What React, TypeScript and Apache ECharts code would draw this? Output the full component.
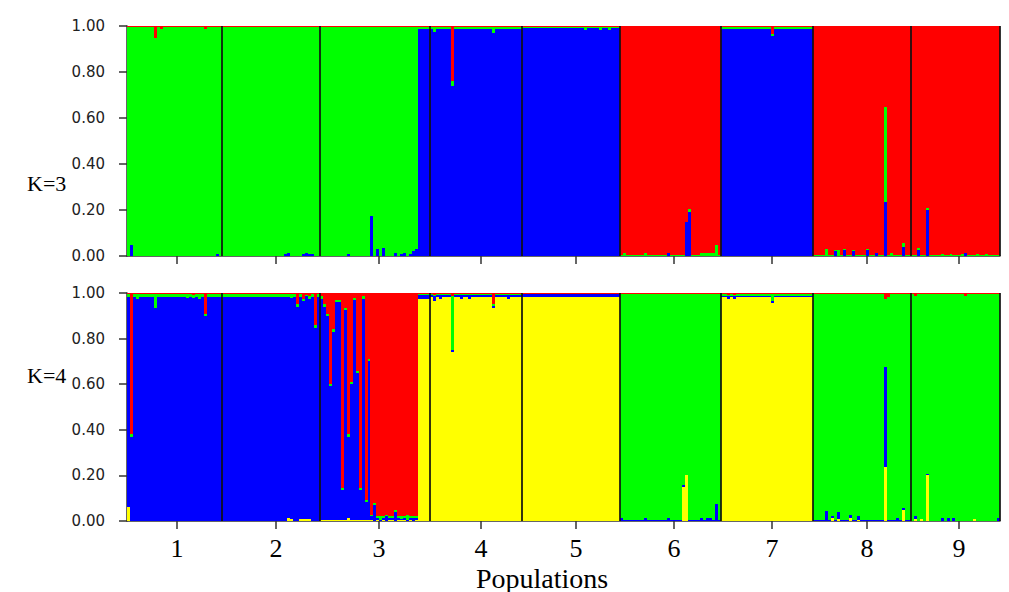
import React, { useEffect, useRef } from "react";
import * as echarts from "echarts";

// ---- data ----
const popLabels = ["1", "2", "3", "4", "5", "6", "7", "8", "9"];
const popSizes = [32, 33, 37, 31, 33, 34, 31, 33, 30];
const popTickPos = [16.8, 50.2, 84.9, 119.2, 151.2, 184.2, 217.2, 249.2, 280.2];
const yTickValues = [0, 0.2, 0.4, 0.6, 0.8, 1.0];
const panelLabels = ["K=3", "K=4"];
const xAxisTitle = "Populations";

// K=3 clusters, stacked bottom -> top: blue, green, red
const k3Colors = ["#0000FF", "#00FF00", "#FF0000"];
const k3Base = [
  [0, 0.994, 0.006],
  [0, 0.994, 0.006],
  [0, 0.994, 0.006],
  [0.986, 0.008, 0.006],
  [0.99, 0.004, 0.006],
  [0, 0.004, 0.996],
  [0.986, 0.008, 0.006],
  [0, 0.004, 0.996],
  [0, 0.004, 0.996],
];
// [population, individual in population, blue, green, red]
const k3Special = [
  [1, 1, 0.05, 0.944, 0.006],
  [1, 9, 0, 0.95, 0.05],
  [1, 11, 0, 0.985, 0.015],
  [1, 26, 0, 0.988, 0.012],
  [1, 30, 0.01, 0.984, 0.006],
  [2, 21, 0.01, 0.984, 0.006],
  [2, 22, 0.012, 0.982, 0.006],
  [2, 27, 0.01, 0.984, 0.006],
  [2, 28, 0.012, 0.982, 0.006],
  [2, 29, 0.01, 0.984, 0.006],
  [2, 30, 0.008, 0.986, 0.006],
  [3, 9, 0.01, 0.984, 0.006],
  [3, 17, 0.175, 0.82, 0.005],
  [3, 19, 0.03, 0.964, 0.006],
  [3, 21, 0.035, 0.959, 0.006],
  [3, 25, 0.015, 0.979, 0.006],
  [3, 27, 0.01, 0.984, 0.006],
  [3, 28, 0.012, 0.982, 0.006],
  [3, 30, 0.01, 0.984, 0.006],
  [3, 31, 0.02, 0.974, 0.006],
  [3, 32, 0.03, 0.964, 0.006],
  [3, 33, 0.986, 0.008, 0.006],
  [3, 34, 0.986, 0.008, 0.006],
  [3, 35, 0.986, 0.008, 0.006],
  [3, 36, 0.986, 0.008, 0.006],
  [4, 1, 0.975, 0.019, 0.006],
  [4, 7, 0.74, 0.02, 0.24],
  [4, 21, 0.97, 0.024, 0.006],
  [5, 21, 0.982, 0.012, 0.006],
  [5, 26, 0.982, 0.012, 0.006],
  [5, 29, 0.982, 0.012, 0.006],
  [6, 1, 0, 0.012, 0.988],
  [6, 8, 0, 0.012, 0.988],
  [6, 16, 0.012, 0, 0.988],
  [6, 22, 0.15, 0, 0.85],
  [6, 23, 0.19, 0.015, 0.795],
  [6, 27, 0, 0.012, 0.988],
  [6, 28, 0, 0.012, 0.988],
  [6, 29, 0, 0.012, 0.988],
  [6, 30, 0, 0.012, 0.988],
  [6, 31, 0, 0.012, 0.988],
  [6, 32, 0, 0.05, 0.95],
  [7, 17, 0.955, 0.01, 0.035],
  [8, 4, 0, 0.03, 0.97],
  [8, 7, 0.02, 0.005, 0.975],
  [8, 8, 0, 0.025, 0.975],
  [8, 10, 0.025, 0.005, 0.97],
  [8, 13, 0.02, 0.005, 0.975],
  [8, 18, 0.025, 0.005, 0.97],
  [8, 21, 0.015, 0, 0.985],
  [8, 24, 0.233, 0.413, 0.354],
  [8, 26, 0, 0.015, 0.985],
  [8, 30, 0.04, 0.015, 0.945],
  [9, 2, 0.025, 0.01, 0.965],
  [9, 5, 0.2, 0.01, 0.79],
  [9, 10, 0, 0.01, 0.99],
  [9, 13, 0, 0.01, 0.99],
  [9, 17, 0, 0.01, 0.99],
  [9, 18, 0.012, 0, 0.988],
  [9, 22, 0, 0.01, 0.99],
  [9, 25, 0, 0.01, 0.99],
];

// K=4 clusters, stacked bottom -> top: yellow, blue, green, red
const k4Colors = ["#FFFF00", "#0000FF", "#00FF00", "#FF0000"];
const k4Base = [
  [0, 0.984, 0.01, 0.006],
  [0, 0.984, 0.01, 0.006],
  [0.004, 0.01, 0.006, 0.98],
  [0.984, 0.006, 0.004, 0.006],
  [0.984, 0.01, 0, 0.006],
  [0, 0.004, 0.99, 0.006],
  [0.984, 0.004, 0.006, 0.006],
  [0, 0.004, 0.99, 0.006],
  [0, 0, 0.994, 0.006],
];
// [population, individual in population, yellow, blue, green, red]
const k4Special = [
  [1, 0, 0.06, 0.924, 0.01, 0.006],
  [1, 1, 0, 0.368, 0.012, 0.62],
  [1, 3, 0, 0.975, 0.019, 0.006],
  [1, 9, 0, 0.935, 0.059, 0.006],
  [1, 20, 0, 0.978, 0.016, 0.006],
  [1, 22, 0, 0.978, 0.012, 0.01],
  [1, 24, 0, 0.975, 0.019, 0.006],
  [1, 26, 0, 0.9, 0.01, 0.09],
  [2, 22, 0.012, 0.972, 0.01, 0.006],
  [2, 23, 0.01, 0.97, 0.014, 0.006],
  [2, 25, 0, 0.94, 0.01, 0.05],
  [2, 26, 0.01, 0.974, 0.01, 0.006],
  [2, 27, 0.01, 0.955, 0.01, 0.025],
  [2, 28, 0.01, 0.975, 0.005, 0.01],
  [2, 29, 0.01, 0.965, 0.01, 0.015],
  [2, 31, 0, 0.845, 0.015, 0.14],
  [3, 0, 0.004, 0.971, 0.01, 0.015],
  [3, 1, 0.004, 0.936, 0.01, 0.05],
  [3, 2, 0.004, 0.896, 0.01, 0.09],
  [3, 3, 0.004, 0.586, 0.01, 0.4],
  [3, 4, 0.004, 0.826, 0.01, 0.16],
  [3, 5, 0.004, 0.956, 0.01, 0.03],
  [3, 6, 0.004, 0.956, 0.01, 0.03],
  [3, 7, 0.004, 0.131, 0.01, 0.855],
  [3, 8, 0.004, 0.921, 0.01, 0.065],
  [3, 9, 0.012, 0.358, 0.01, 0.62],
  [3, 10, 0.004, 0.596, 0.01, 0.39],
  [3, 11, 0.004, 0.966, 0.01, 0.02],
  [3, 12, 0.004, 0.646, 0.01, 0.34],
  [3, 13, 0.004, 0.131, 0.01, 0.855],
  [3, 14, 0.004, 0.971, 0.01, 0.015],
  [3, 15, 0.004, 0.079, 0.01, 0.907],
  [3, 16, 0.004, 0.696, 0.01, 0.29],
  [3, 17, 0.004, 0.016, 0.005, 0.975],
  [3, 18, 0, 0.07, 0.01, 0.92],
  [3, 20, 0, 0.005, 0.015, 0.98],
  [3, 22, 0, 0.02, 0.005, 0.975],
  [3, 25, 0, 0.04, 0.01, 0.95],
  [3, 27, 0.005, 0.005, 0.01, 0.98],
  [3, 29, 0, 0.005, 0.02, 0.975],
  [3, 31, 0, 0.015, 0.005, 0.98],
  [3, 33, 0.975, 0.015, 0.004, 0.006],
  [3, 34, 0.975, 0.015, 0.004, 0.006],
  [3, 35, 0.975, 0.015, 0.004, 0.006],
  [3, 36, 0.975, 0.015, 0.004, 0.006],
  [4, 1, 0.965, 0.02, 0.005, 0.01],
  [4, 3, 0.975, 0.015, 0.004, 0.006],
  [4, 7, 0.74, 0.01, 0.235, 0.015],
  [4, 10, 0.975, 0.015, 0.004, 0.006],
  [4, 13, 0.975, 0.015, 0.004, 0.006],
  [4, 21, 0.935, 0.01, 0.005, 0.05],
  [4, 26, 0.975, 0.015, 0.004, 0.006],
  [6, 0, 0, 0.012, 0.982, 0.006],
  [6, 8, 0, 0.012, 0.982, 0.006],
  [6, 16, 0, 0.012, 0.982, 0.006],
  [6, 21, 0.15, 0.01, 0.834, 0.006],
  [6, 22, 0.2, 0, 0.794, 0.006],
  [6, 27, 0, 0.012, 0.982, 0.006],
  [6, 29, 0, 0.012, 0.982, 0.006],
  [6, 30, 0, 0.012, 0.982, 0.006],
  [6, 32, 0, 0.073, 0.921, 0.006],
  [7, 2, 0.975, 0.01, 0.005, 0.01],
  [7, 4, 0.975, 0.01, 0.005, 0.01],
  [7, 17, 0.955, 0.01, 0.03, 0.005],
  [8, 4, 0, 0.045, 0.949, 0.006],
  [8, 6, 0.015, 0.005, 0.974, 0.006],
  [8, 8, 0.01, 0.03, 0.954, 0.006],
  [8, 12, 0.015, 0.01, 0.969, 0.006],
  [8, 15, 0.005, 0.015, 0.974, 0.006],
  [8, 24, 0.235, 0.44, 0.3, 0.025],
  [8, 25, 0, 0.004, 0.98, 0.016],
  [8, 28, 0, 0.012, 0.982, 0.006],
  [8, 30, 0.05, 0.005, 0.94, 0.005],
  [9, 1, 0.01, 0.01, 0.965, 0.015],
  [9, 3, 0.01, 0, 0.984, 0.006],
  [9, 5, 0.2, 0.005, 0.789, 0.006],
  [9, 10, 0, 0.012, 0.982, 0.006],
  [9, 12, 0, 0.012, 0.982, 0.006],
  [9, 14, 0, 0.012, 0.982, 0.006],
  [9, 18, 0, 0, 0.985, 0.015],
  [9, 21, 0.01, 0, 0.984, 0.006],
  [9, 29, 0, 0.012, 0.982, 0.006],
];

// ---- build per-individual rows from the tables ----
function buildRows(base: number[][], special: number[][]) {
  const rows: number[][] = [];
  let g = 0;
  popSizes.forEach((n, p) => {
    for (let j = 0; j < n; j++) {
      const sp = special.find((s) => s[0] === p + 1 && s[1] === j);
      const vals = sp ? sp.slice(2) : base[p];
      rows.push([g, ...vals]);
      g++;
    }
  });
  return rows;
}

const boundaries: number[] = [];
{
  let acc = 0;
  popSizes.forEach((n) => {
    acc += n;
    boundaries.push(acc);
  });
}
const totalInd = boundaries[boundaries.length - 1];

export default function App() {
  const ref = useRef<HTMLDivElement>(null);

  useEffect(() => {
    if (!ref.current) return;
    const chart = echarts.init(ref.current, undefined, { renderer: "svg" });

    const k3Rows = buildRows(k3Base, k3Special);
    const k4Rows = buildRows(k4Base, k4Special);

    const makeRender = (colors: string[]) => (params: any, api: any) => {
      const i = api.value(0);
      const n = colors.length;
      const x0 = Math.round(api.coord([i, 0])[0]);
      const x1 = Math.round(api.coord([i + 1, 0])[0]);
      const children: any[] = [];
      let cum = 0;
      let yPrev = Math.round(api.coord([i, 0])[1]);
      for (let k = 0; k < n; k++) {
        cum += api.value(k + 1);
        const top = k === n - 1 ? 1 : cum;
        const yTop = Math.round(api.coord([i, top])[1]);
        const h = yPrev - yTop;
        if (h > 0) {
          children.push({
            type: "rect",
            shape: { x: x0, y: yTop, width: x1 - x0, height: h },
            style: { fill: colors[k] },
          });
        }
        yPrev = Math.min(yPrev, yTop);
      }
      return { type: "group", children };
    };

    const sepRender = (params: any, api: any) => {
      const b = api.value(0);
      const p0 = api.coord([b, 0]);
      const p1 = api.coord([b, 1]);
      const x = Math.round(p0[0]);
      return {
        type: "line",
        shape: { x1: x, y1: p0[1], x2: x, y2: p1[1] },
        style: { stroke: "#111", lineWidth: 1.7 },
      };
    };

    const yAxisCommon = {
      type: "value",
      min: 0,
      max: 1,
      interval: 0.2,
      axisLine: { show: true, lineStyle: { color: "#333", width: 1.5 } },
      axisTick: { show: true, length: 8, lineStyle: { color: "#333", width: 1.5 } },
      splitLine: { show: false },
      axisLabel: {
        color: "#222",
        fontFamily: "DejaVu Sans",
        fontSize: 15,
        margin: 22,
        showMinLabel: true,
        showMaxLabel: true,
        formatter: (v: number) =>
          yTickValues.some((t) => Math.abs(t - v) < 1e-6) ? v.toFixed(2) : "",
      },
    };

    const xAxisCommon = (gridIndex: number, showLabels: boolean) => ({
      type: "value",
      gridIndex,
      min: 0,
      max: totalInd,
      axisLine: { show: true, onZero: false, lineStyle: { color: "#333", width: 1.5 } },
      axisTick: {
        show: true,
        length: 8,
        customValues: popTickPos,
        lineStyle: { color: "#333", width: 1.5 },
      },
      splitLine: { show: false },
      axisLabel: {
        show: showLabels,
        customValues: popTickPos,
        color: "#000",
        fontFamily: "Liberation Serif",
        fontSize: 26,
        margin: 14,
        formatter: (v: number) => {
          const idx = popTickPos.findIndex((t) => Math.abs(t - v) < 1e-6);
          return idx >= 0 ? popLabels[idx] : "";
        },
      },
    });

    const sepData = boundaries.map((b) => [b]);

    chart.setOption({
      animation: false,
      backgroundColor: "#fff",
      grid: [
        { left: 127, right: 9, top: 26, bottom: 336 },
        { left: 127, right: 9, top: 293, bottom: 71 },
      ],
      xAxis: [xAxisCommon(0, false), xAxisCommon(1, true)],
      yAxis: [
        { ...yAxisCommon, gridIndex: 0 },
        { ...yAxisCommon, gridIndex: 1 },
      ],
      series: [
        {
          type: "custom",
          xAxisIndex: 0,
          yAxisIndex: 0,
          renderItem: makeRender(k3Colors),
          data: k3Rows,
          encode: { x: 0, y: 1 },
          clip: true,
          silent: true,
        },
        {
          type: "custom",
          xAxisIndex: 0,
          yAxisIndex: 0,
          renderItem: sepRender,
          data: sepData,
          encode: { x: 0 },
          silent: true,
          z: 5,
        },
        {
          type: "custom",
          xAxisIndex: 1,
          yAxisIndex: 1,
          renderItem: makeRender(k4Colors),
          data: k4Rows,
          encode: { x: 0, y: 1 },
          clip: true,
          silent: true,
        },
        {
          type: "custom",
          xAxisIndex: 1,
          yAxisIndex: 1,
          renderItem: sepRender,
          data: sepData,
          encode: { x: 0 },
          silent: true,
          z: 5,
        },
      ],
      graphic: [
        {
          type: "text",
          left: 27,
          top: 172,
          style: {
            text: panelLabels[0],
            fill: "#000",
            font: "22px 'Liberation Serif'",
          },
        },
        {
          type: "text",
          left: 27,
          top: 364,
          style: {
            text: panelLabels[1],
            fill: "#000",
            font: "22px 'Liberation Serif'",
          },
        },
        {
          type: "text",
          x: 542,
          y: 578,
          style: {
            text: xAxisTitle,
            fill: "#000",
            font: "28px 'Liberation Serif'",
            align: "center",
            verticalAlign: "middle",
          },
        },
      ],
    });

    return () => chart.dispose();
  }, []);

  return (
    <div
      ref={ref}
      style={{ position: "fixed", left: 0, top: 0, width: 1009, height: 592 }}
    />
  );
}
